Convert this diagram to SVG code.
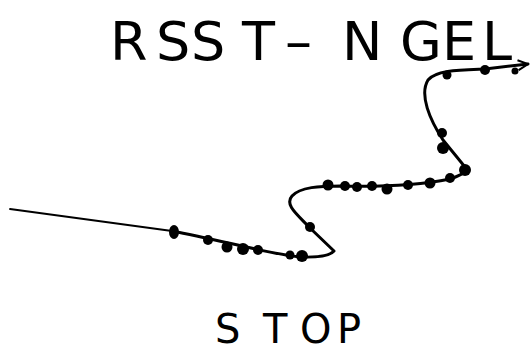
<svg xmlns="http://www.w3.org/2000/svg" width="530" height="352" viewBox="0 0 530 352">
  <style>
    .hand { font-family: "DejaVu Sans", "Liberation Sans", sans-serif; fill: #000; }
    .title { font-size: 54px; }
    .label { font-size: 40px; }
    .curve { fill: none; stroke: #000; stroke-width: 3; stroke-linecap: round; stroke-linejoin: round; }
    .dot { fill: #000; }
  </style>
  <defs>
    <marker id="arrow" viewBox="0 0 12 12" refX="11" refY="6" markerWidth="12" markerHeight="12" markerUnits="userSpaceOnUse" orient="auto">
      <path d="M1,1 L11,6 L1,11" fill="none" stroke="#000" stroke-width="2"/>
    </marker>
  </defs>
  <rect width="530" height="352" fill="#fff"/>
  <g id="title">
    <text class="hand title" x="110 156 191 242 285 342 400 442 482" y="60">RSST–NGEL</text>
  </g>
  <g id="stop">
    <text class="hand label" x="215 263 300 337" y="343">STOP</text>
  </g>
  <g id="connectors">
    <path d="M10,209 L172,231" fill="none" stroke="#000" stroke-width="1.8" stroke-linecap="round"/>
    <path class="curve" marker-end="url(#arrow)" d="M172,231 C220,240 270,254 300,257 Q328,258 334,251 L310,228 C298,215 284,205 292,196 C300,187 320,186 340,186 C380,187 420,185 450,179 C462,175 468,171 465,167 L443,140 C430,120 419,95 428,80 C436,70 460,70 485,69 L528,64"/>
  </g>
  <g id="dots">
    <ellipse class="dot" cx="174" cy="232" rx="5" ry="7"/>
    <circle class="dot" cx="208" cy="240" r="5"/>
    <circle class="dot" cx="227" cy="247" r="5.5"/>
    <circle class="dot" cx="243" cy="249" r="6"/>
    <circle class="dot" cx="258" cy="250" r="5"/>
    <circle class="dot" cx="290" cy="255" r="4.5"/>
    <circle class="dot" cx="302" cy="256" r="6"/>
    <circle class="dot" cx="310" cy="227" r="5"/>
    <circle class="dot" cx="328" cy="185" r="5.5"/>
    <circle class="dot" cx="345" cy="186" r="5"/>
    <circle class="dot" cx="357" cy="187" r="5"/>
    <circle class="dot" cx="372" cy="186" r="5"/>
    <circle class="dot" cx="387" cy="189" r="5.5"/>
    <circle class="dot" cx="408" cy="185" r="5"/>
    <circle class="dot" cx="430" cy="183" r="5.5"/>
    <circle class="dot" cx="450" cy="178" r="5"/>
    <circle class="dot" cx="465" cy="170" r="6"/>
    <circle class="dot" cx="443" cy="148" r="6"/>
    <circle class="dot" cx="442" cy="133" r="5"/>
    <circle class="dot" cx="447" cy="75" r="4.5"/>
    <circle class="dot" cx="485" cy="70" r="5"/>
    <circle class="dot" cx="515" cy="71" r="3.5"/>
  </g>
</svg>
